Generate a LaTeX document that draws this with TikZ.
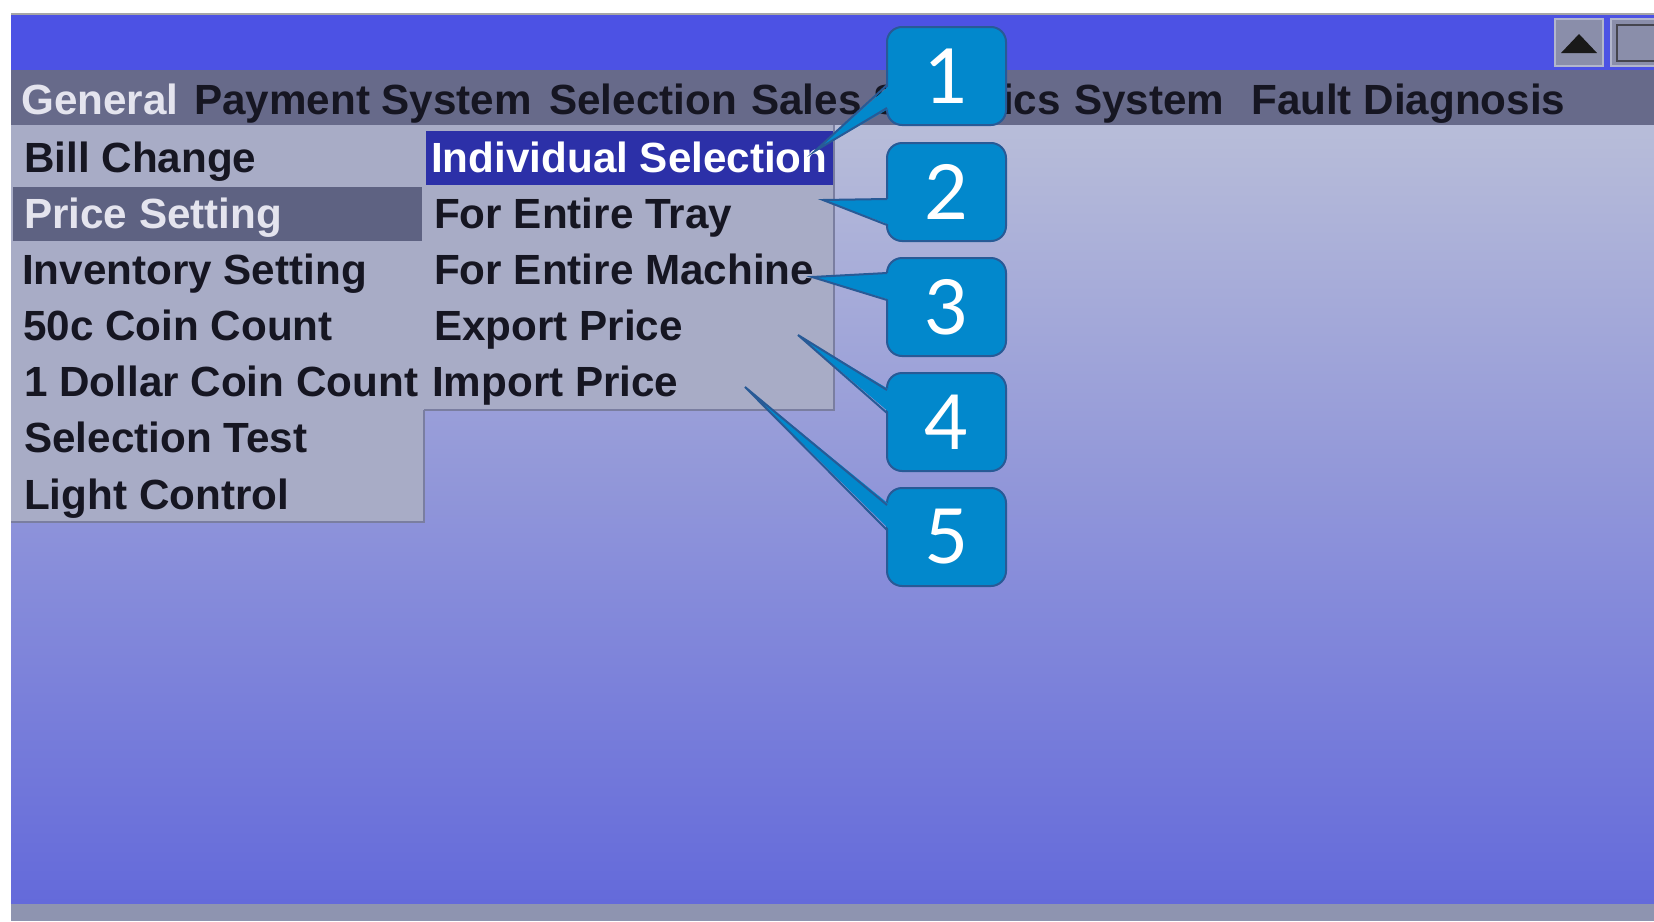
\documentclass[tikz,border=0pt]{standalone}
\usepackage{fontspec}
\setmainfont{Liberation Sans}
\newfontfamily\digitfont{Lato}
\usetikzlibrary{calc}

\definecolor{titlebar}{RGB}{76,82,228}
\definecolor{menubar}{RGB}{103,106,138}
\definecolor{panel}{RGB}{168,172,198}
\definecolor{paneledge}{RGB}{122,126,160}
\definecolor{panelsel}{RGB}{94,98,130}
\definecolor{subsel}{RGB}{44,48,168}
\definecolor{bgtop}{RGB}{184,189,217}
\definecolor{bgmid}{RGB}{142,148,216}
\definecolor{bgbot}{RGB}{100,106,218}
\definecolor{bezel}{RGB}{142,148,176}
\definecolor{btnfill}{RGB}{138,142,170}
\definecolor{btnedge}{RGB}{178,182,204}
\definecolor{calloutfill}{RGB}{2,136,204}
\definecolor{calloutedge}{RGB}{40,90,150}
\definecolor{darktext}{RGB}{22,22,34}
\definecolor{lighttext}{RGB}{228,228,238}

\begin{document}
\begin{tikzpicture}[x=1pt,y=-1pt,
  menufont/.style={font=\fontsize{42.2}{44}\selectfont\bfseries},
  item/.style={menufont, anchor=base west, inner sep=0pt, text=darktext},
  itemsel/.style={item, text=lighttext},
  callout/.style={rounded corners=15pt, fill=calloutfill, draw=calloutedge,
    line width=2pt, minimum width=119pt, minimum height=98pt, inner sep=0pt,
    outer sep=0pt, text=white, font=\digitfont\fontsize{76}{76}\selectfont},
  tailline/.style={draw=calloutedge, line width=2pt, line join=miter},
  tailfill/.style={fill=calloutfill},
]
\useasboundingbox (0,0) rectangle (1654,921);
\fill[white] (0,0) rectangle (1654,921);

% screen: bezel, desktop gradient, title bar and menu bar
\fill[bezel] (11,14) rectangle (1654,921);
\shade[top color=bgtop, middle color=bgmid, bottom color=bgbot]
  (11,125) rectangle (1654,903);
\fill[titlebar] (11,14) rectangle (1654,70);
\draw[gray!70, line width=1.5pt] (11,14) -- (1654,14);
\fill[menubar] (11,70) rectangle (1654,125);

% window buttons
\draw[fill=btnfill, draw=btnedge, line width=2pt] (1555,19) rectangle (1603,66);
\fill[black!90] (1561,53) -- (1597,53) -- (1579,34) -- cycle;
\draw[fill=btnfill, draw=btnedge, line width=2pt] (1611,19) rectangle (1662,66);
\draw[darktext!80, line width=2pt] (1617,25) rectangle (1662,61);

% menu bar entries
\node[itemsel] (mGeneral) at (21,114) {General};
\node[item] (mPay) at (194,114) {Payment System};
\node[item] (mSel) at (549,114) {Selection};
\node[item] (mSales) at (751,114) {Sales Statistics};
\node[item] (mSys) at (1074,114) {System};
\node[item] (mFault) at (1251,114) {Fault Diagnosis};

% "General" drop-down
\fill[panel] (11,125) rectangle (424,522);
\fill[panelsel] (13,187) rectangle (422,241);
\draw[paneledge, line width=1.5pt] (424,410) -- (424,522) -- (11,522);
\node[item] (gBill) at (24,172) {Bill Change};
\node[itemsel] (gPrice) at (24,228.2) {Price Setting};
\node[item] (gInv) at (22,284.3) {Inventory Setting};
\node[item] (gCoin50) at (23,340.5) {50c Coin Count};
\node[item] (gCoin1) at (24,396.7) {1 Dollar Coin Count};
\node[item] (gTest) at (24,452.8) {Selection Test};
\node[item] (gLight) at (24,509) {Light Control};

% "Price Setting" sub-menu
\fill[panel] (424,125) rectangle (834,410);
\fill[subsel] (426,131) rectangle (833,185);
\draw[paneledge, line width=1.5pt] (834,125) -- (834,410) -- (424,410);
\node[item, text=white] (pIndiv) at (431,172) {Individual Selection};
\node[item] (pTray) at (434,228.2) {For Entire Tray};
\node[item] (pMach) at (434,284.3) {For Entire Machine};
\node[item] (pExport) at (434,340.5) {Export Price};
\node[item] (pImport) at (432,396.7) {Import Price};

% numbered callouts with pointer tails
\coordinate (t1) at (815,151);
\coordinate (t2) at (823,200);
\coordinate (t3) at (812,277);
\coordinate (t4) at (798,335);
\coordinate (t5) at (745,387);

\foreach \n/\top/\ua/\lb in {1/27/58/81, 2/143/56/82, 3/258/15/42, 4/373/17/40, 5/488/17/42}{
  \node[callout] (c\n) at (946.5,\top+49) {\n};
  \fill[tailfill] ([shift={(3pt,-\ua pt)}]c\n.north west) -- (t\n)
    -- ([shift={(3pt,-\lb pt)}]c\n.north west) -- cycle;
  \draw[tailline] ([yshift=-\ua pt]c\n.north west) -- (t\n)
    -- ([yshift=-\lb pt]c\n.north west);
}
\end{tikzpicture}
\end{document}
